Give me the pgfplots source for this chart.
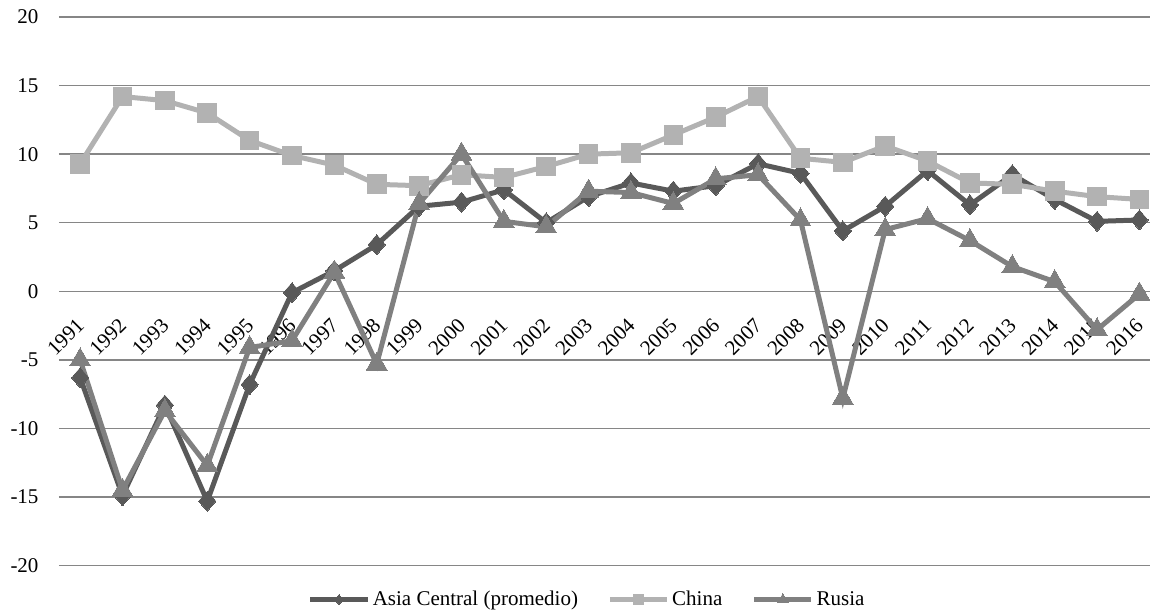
\documentclass[border=0pt]{standalone}
\usepackage{fontspec}
\setmainfont{Liberation Serif}
\usepackage{pgfplots}
\usepackage{pgfplotstable}
\pgfplotsset{compat=1.18}

\definecolor{asiac}{RGB}{89,89,89}
\definecolor{chinac}{RGB}{178,178,178}
\definecolor{rusiac}{RGB}{128,128,128}
\definecolor{gridc}{RGB}{134,134,134}

% crecimiento del PIB (%)
\pgfplotstableread{
year  asia   china  rusia
1991  -6.3   9.3    -5.0
1992  -14.9  14.2   -14.5
1993  -8.3   13.9   -8.7
1994  -15.3  13.0   -12.7
1995  -6.8   11.0   -4.1
1996  -0.1   9.9    -3.6
1997  1.5    9.2    1.4
1998  3.4    7.8    -5.3
1999  6.2    7.7    6.4
2000  6.5    8.5    10.0
2001  7.4    8.3    5.1
2002  5.0    9.1    4.7
2003  6.9    10.0   7.3
2004  7.9    10.1   7.2
2005  7.3    11.4   6.4
2006  7.7    12.7   8.2
2007  9.3    14.2   8.5
2008  8.6    9.7    5.2
2009  4.4    9.4    -7.8
2010  6.2    10.6   4.5
2011  8.8    9.5    5.3
2012  6.3    7.9    3.7
2013  8.5    7.8    1.8
2014  6.7    7.3    0.7
2015  5.1    6.9    -2.8
2016  5.2    6.7    -0.2
}\datos

\begin{document}
\begin{tikzpicture}
\begin{axis}[
    scale only axis,
    width=818.8pt, height=411.75pt,
    xmin=1990.5, xmax=2016.25,
    ymin=-20, ymax=20,
    xtick={1991,...,2016},
    ytick={-20,-15,...,20},
    axis x line=middle, axis y line=left,
    axis line style={draw=none},
    hide obscured x ticks=false, hide obscured y ticks=false,
    major tick length=0pt,
    ymajorgrids,
    major grid style={gridc, line width=1pt},
    /pgf/number format/assume math mode=true,
    x tick label style={/pgf/number format/1000 sep={}},
    ticklabel style={font=\fontsize{15.75}{19}\selectfont},
    xticklabel style={xshift=1.5pt, yshift=-21.75pt, rotate=45, anchor=east, inner sep=0pt},
    yticklabel style={anchor=east, inner sep=0pt, xshift=-13.5pt},
    line width=3.75pt,
    legend columns=-1,
    legend style={draw=none, fill=none, font=\fontsize{15.75}{19}\selectfont,
        at={(axis description cs:0.5,0)}, anchor=center,
        yshift=-25.5pt, xshift=-12.75pt,
        /tikz/every even column/.append style={column sep=20pt}},
    legend image code/.code={
        \draw[mark repeat=2, mark phase=2, #1, every mark/.append style={scale=0.5}]
        plot coordinates {(0pt,0pt) (21.5pt,0pt) (43pt,0pt)};},
]
\addplot[asiac, mark=diamond*, mark size=7.5pt, mark options={line width=0pt, xscale=1.15}]
    table[x=year, y=asia] {\datos};
\addlegendentry{Asia Central (promedio)}
\addplot[chinac, mark=square*, mark size=7pt, mark options={line width=0pt}]
    table[x=year, y=china] {\datos};
\addlegendentry{China}
\addplot[rusiac, mark=triangle*, mark size=9pt, mark options={line width=0pt}]
    table[x=year, y=rusia] {\datos};
\addlegendentry{Rusia}
\end{axis}
\pgfresetboundingbox
\path ([xshift=-44.25pt, yshift=-35.25pt]current axis.south west)
    rectangle ([yshift=12.75pt]current axis.north east);
\end{tikzpicture}
\end{document}
